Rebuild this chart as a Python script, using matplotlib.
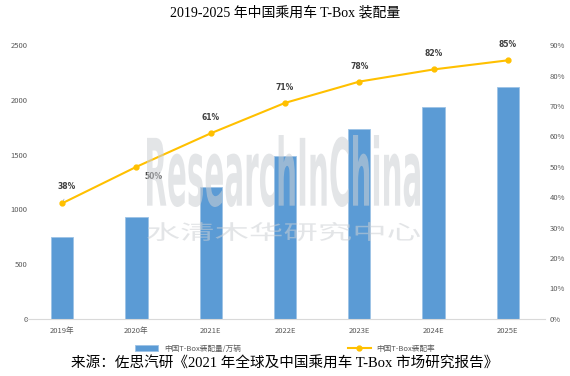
import matplotlib.pyplot as plt
import numpy as np
from matplotlib.textpath import TextPath
from matplotlib.patches import PathPatch
from matplotlib.font_manager import FontProperties
from matplotlib.transforms import Affine2D

years = ['2019年', '2020年', '2021E', '2022E', '2023E', '2024E', '2025E']
volume = [748, 933, 1207, 1490, 1731, 1932, 2120]  # 万辆
rate = [38, 50, 61, 71, 78, 82, 85]  # %

cjk = ['Noto Sans CJK SC', 'DejaVu Sans']
serif = ['Liberation Serif', 'Noto Sans CJK SC']
plt.rcParams['font.family'] = cjk

W, H = 570, 376
fig = plt.figure(figsize=(W / 100, H / 100), dpi=100)
ax = fig.add_axes([0.044, 0.152, 0.912, 0.728])
ax2 = ax.twinx()

x = np.arange(len(years))
bars = ax.bar(x, volume, width=0.3, color='#5b9bd5', edgecolor='#9dc3e6', linewidth=0.6,
              label='中国T-Box装配量/万辆', zorder=2)
line, = ax2.plot(x, rate, color='#ffc000', linewidth=1.5, marker='o', markersize=3.5,
                 label='中国T-Box装配率', zorder=3)

for xi, r in zip(x, rate):
    if r == 50:
        off, va = (12, -4), 'top'
    elif r == 38:
        off, va = (3, 9), 'bottom'
    else:
        off, va = (0, 8), 'bottom'
    ax2.annotate(f'{r}%', (xi, r), xytext=off, textcoords='offset points',
                 ha='center', va=va, fontsize=5.5, fontweight='bold', color='#404040',
                 family='DejaVu Sans')
# leader line for the 38% label
ax2.annotate('', (x[0], rate[0]), xytext=(x[0] + 0.04, rate[0] + 2.2),
             arrowprops=dict(arrowstyle='-', color='#a6a6a6', lw=0.5))

ax.set_xlim(-0.5, len(years) - 0.5)
ax.set_ylim(0, 2500)
ax.set_yticks(range(0, 2501, 500))
ax2.set_ylim(0, 90)
ax2.set_yticks(range(0, 91, 10))
ax2.set_yticklabels([f'{v}%' for v in range(0, 91, 10)])
ax.set_xticks(x)
ax.set_xticklabels(years)

for a in (ax, ax2):
    for s in a.spines.values():
        s.set_visible(False)
    a.tick_params(length=0, labelsize=5.5, colors='#595959')
ax.spines['bottom'].set_visible(True)
ax.spines['bottom'].set_color('#d9d9d9')
ax.tick_params(axis='y', pad=-2)
ax.tick_params(axis='x', pad=6)


def watermark(text, prop, box, color):
    # box in pixels from top-left: x0, y_top, x1, y_bottom
    tp = TextPath((0, 0), text, size=1, prop=prop)
    ext = tp.get_extents()
    x0, yt, x1, yb = box
    sx = (x1 - x0) / W / ext.width
    sy = (yb - yt) / H / ext.height
    tr = Affine2D().translate(-ext.x0, -ext.y0).scale(sx, sy).translate(x0 / W, 1 - yb / H)
    fig.add_artist(PathPatch(tr.transform_path(tp), transform=fig.transFigure,
                             facecolor=color, edgecolor='none', alpha=0.55, zorder=5))


watermark('ResearchInChina', FontProperties(family='DejaVu Sans', weight='bold'),
          (147, 135, 420, 207), '#cdd0d4')
watermark('水清木华研究中心', FontProperties(family='Noto Sans CJK SC'),
          (147, 222, 420, 241), '#cdd0d4')

fig.legend(handles=[bars, line], loc='center', bbox_to_anchor=(0.5, 0.073), ncol=2,
           frameon=False, fontsize=5.5, columnspacing=14, handlelength=3,
           labelcolor='#595959')

fig.text(0.5, 0.965, '2019-2025 年中国乘用车 T-Box 装配量', ha='center', va='center',
         fontsize=10, family=serif)
fig.text(0.5, 0.032, '来源：佐思汽研《2021 年全球及中国乘用车 T-Box 市场研究报告》', ha='center',
         va='center', fontsize=10.5, family=serif)

fig.savefig('out.png', dpi=100)
